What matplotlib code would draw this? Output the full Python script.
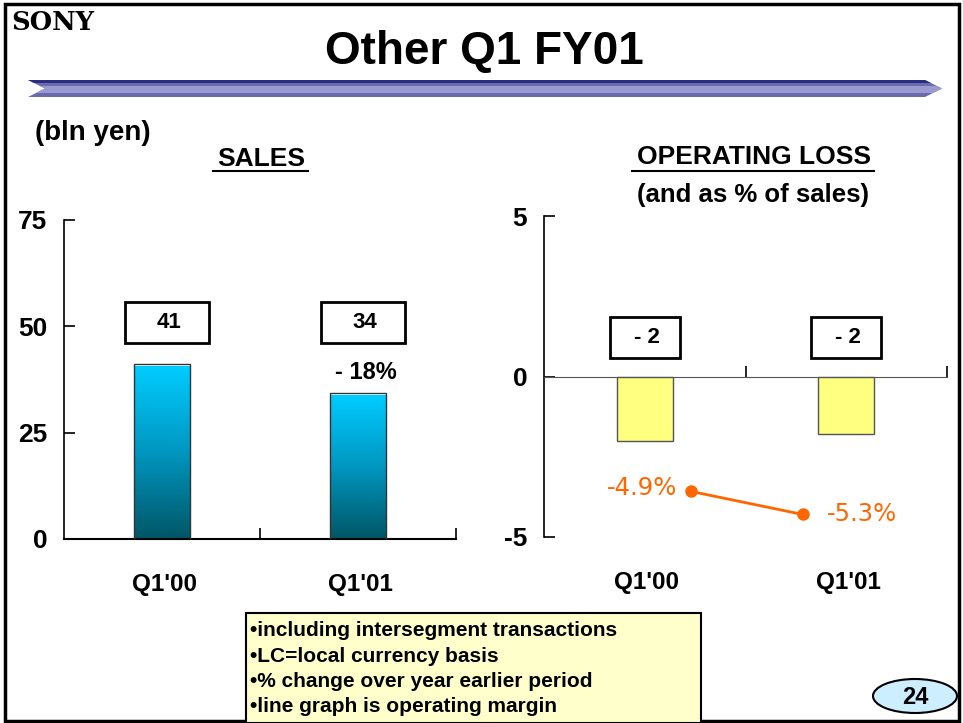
import matplotlib
matplotlib.use("Agg")
import matplotlib.pyplot as plt
import numpy as np
from matplotlib import font_manager
from matplotlib.patches import Rectangle, Polygon, Ellipse
from matplotlib.colors import LinearSegmentedColormap

# data
quarters = ["Q1'00", "Q1'01"]
sales = [41.1, 34.3]
sales_labels = ["41", "34"]
sales_change = [None, "- 18%"]
op_loss = [-2.0, -1.8]
op_labels = ["- 2", "- 2"]
op_margin = [-4.9, -5.3]
margin_labels = ["-4.9%", "-5.3%"]
notes = ["\u2022including intersegment transactions",
         "\u2022LC=local currency basis",
         "\u2022% change over year earlier period",
         "\u2022line graph is operating margin"]

W, H = 963, 723

plt.rcParams["axes.unicode_minus"] = False
names = {f.name for f in font_manager.fontManager.ttflist}
NARROW = "Liberation Sans Narrow" if "Liberation Sans Narrow" in names else "Liberation Sans"
SANS = "Liberation Sans"

fig = plt.figure(figsize=(W / 100, H / 100), dpi=100)


def rect(x0, y0, x1, y1):
    return [x0 / W, 1 - y1 / H, (x1 - x0) / W, (y1 - y0) / H]


# background axes in pixel units for the slide decoration
bg = fig.add_axes([0, 0, 1, 1])
bg.set_xlim(0, W)
bg.set_ylim(H, 0)
bg.axis("off")

bg.add_patch(Rectangle((5, 4), 954, 717, fill=False, ec="black", lw=2.5))
bg.text(11, 23, "SONY", family="DejaVu Serif", weight="bold", fontsize=18.5,
        va="center", ha="left")
bg.text(484, 52, "Other Q1 FY01", family=SANS, weight="bold", fontsize=33,
        ha="center", va="center")

# banner arrow
arrow_pts = [(28, 80), (925, 80), (942, 88.5), (925, 97), (28, 97), (45, 88.5)]
base = Polygon(arrow_pts, closed=True, fc="#6a6aae", ec="none")
bg.add_patch(base)
for y0, h, c in [(80, 3, "#2c2c80"), (85.5, 7, "#9a9ad0")]:
    s = Rectangle((0, y0), W, h, fc=c, ec="none")
    bg.add_patch(s)
    s.set_clip_path(base)

bg.text(35, 133, "(bln yen)", family=NARROW, weight="bold", fontsize=20,
        ha="left", va="center")
bg.text(261, 159, "SALES", family=NARROW, weight="bold", fontsize=19,
        ha="center", va="center")
bg.plot([213, 308], [171, 171], color="black", lw=1.5)
bg.text(754, 157, "OPERATING LOSS", family=NARROW, weight="bold", fontsize=19,
        ha="center", va="center")
bg.plot([632, 874], [171, 171], color="black", lw=1.5)
bg.text(753, 195, "(and as % of sales)", family=NARROW, weight="bold",
        fontsize=18.5, ha="center", va="center")

# footnote box and page number
bg.add_patch(Rectangle((246, 613), 455, 110, fc="#ffffcc", ec="black", lw=1.5))
for i, line in enumerate(notes):
    bg.text(250, 631 + i * 25.3, line, family=SANS, weight="bold",
            fontsize=15, ha="left", va="center")
bg.add_patch(Ellipse((915, 696), 84, 34, fc="#cceeff", ec="black", lw=1.5))
bg.text(915, 697, "24", family=SANS, weight="bold", fontsize=17,
        ha="center", va="center")


def style_axis(ax):
    for side in ["top", "right"]:
        ax.spines[side].set_visible(False)
    ax.set_facecolor("none")
    ax.tick_params(axis="y", direction="in", length=8, width=1.2, pad=12,
                   labelsize=19)
    ax.tick_params(axis="x", direction="in", length=8, width=1.2,
                   labelbottom=False)
    for lab in ax.get_yticklabels():
        lab.set_family(NARROW)
        lab.set_weight("bold")
    ax.set_xlim(-0.5, 1.5)
    ax.set_xticks([0.5, 1.5])


def value_box(ax, x, y, text, w, h, dx=0):
    xd, yd = ax.transData.transform((x, y))
    cx, cy = xd + dx, H - yd
    bg.add_patch(Rectangle((cx - w / 2, cy - h / 2), w, h, fc="white",
                           ec="black", lw=2, zorder=5))
    bg.text(cx + 2, cy, text, family=NARROW, weight="bold", fontsize=16,
            ha="center", va="center", zorder=6)


# ---- SALES ----
ax1 = fig.add_axes(rect(64, 220, 456, 539))
ax1.set_ylim(0, 75)
ax1.set_yticks([0, 25, 50, 75])
style_axis(ax1)
ax1.spines["left"].set_linewidth(1.2)
ax1.spines["bottom"].set_linewidth(1.5)

cmap = LinearSegmentedColormap.from_list("cy", ["#005666", "#0096c0", "#00ccff"])
grad = np.linspace(0, 1, 256).reshape(-1, 1)
xs = np.arange(len(quarters))
bars = ax1.bar(xs, sales, width=0.29, fc="none", ec="#333333", lw=1, zorder=3)
for b in bars:
    x0 = b.get_x()
    ax1.imshow(grad, extent=[x0, x0 + b.get_width(), 0, b.get_height() - 0.6],
               origin="lower", cmap=cmap, aspect="auto", zorder=2)
ax1.set_xlim(-0.5, 1.5)
ax1.set_ylim(0, 75)

fig.canvas.draw()
for i, q in enumerate(quarters):
    xd, _ = ax1.transData.transform((i, 0))
    bg.text(xd + 2, 585, q, family=NARROW, weight="bold", fontsize=17.5,
            ha="center", va="center")
    value_box(ax1, i, 51, sales_labels[i], 84, 41, dx=5)
    if sales_change[i]:
        xd, yd = ax1.transData.transform((i, sales[i]))
        bg.text(xd + 8, H - yd - 21, sales_change[i], family=NARROW,
                weight="bold", fontsize=17, ha="center", va="center")

# ---- OPERATING LOSS ----
ax2 = fig.add_axes(rect(544, 216, 947, 537))
ax2.set_ylim(-5, 5)
ax2.set_yticks([-5, 0, 5])
style_axis(ax2)
ax2.spines["bottom"].set_position(("data", 0))
ax2.spines["bottom"].set_color("#555555")
ax2.spines["left"].set_linewidth(1.2)
ax2.bar(xs, op_loss, width=0.28, fc="#ffff80", ec="#555555", lw=1, zorder=3)

# margin line sits on its own scale
ax3 = fig.add_axes(rect(544, 216, 947, 537))
ax3.set_facecolor("none")
ax3.axis("off")
ax3.set_xlim(-1.31, 2.29)
ax3.set_ylim(-5.69, -0.14)
ax3.plot(xs, op_margin, color="#ff6600", lw=2, marker="o", ms=8, zorder=4)

fig.canvas.draw()
for i, q in enumerate(quarters):
    xd, _ = ax2.transData.transform((i, 0))
    bg.text(xd + 2, 583, q, family=NARROW, weight="bold", fontsize=17.5,
            ha="center", va="center")
    value_box(ax2, i, 1.2, op_labels[i], 70, 41)

for i, lab in enumerate(margin_labels):
    xd, yd = ax3.transData.transform((i, op_margin[i]))
    if i == 0:
        bg.text(xd - 13, H - yd - 3, lab, family="DejaVu Sans", fontsize=17.5,
                color="#ff6600", ha="right", va="center")
    else:
        bg.text(xd + 24, H - yd, lab, family="DejaVu Sans", fontsize=17.5,
                color="#ff6600", ha="left", va="center")

fig.savefig("out.png", dpi=100)
